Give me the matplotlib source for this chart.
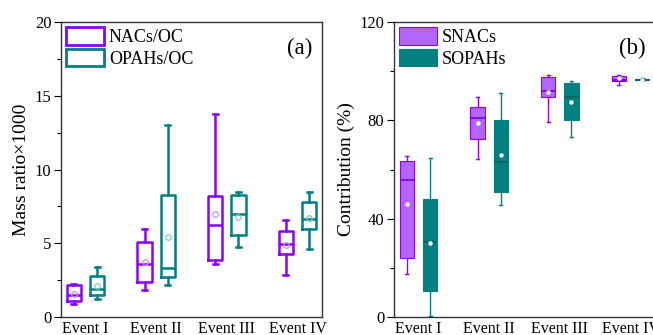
import numpy as np
import matplotlib.pyplot as plt
from matplotlib.patches import Patch
from matplotlib.ticker import MultipleLocator

plt.rcParams['font.family'] = ['Liberation Serif', 'DejaVu Serif']

events = ['Event I', 'Event II', 'Event III', 'Event IV']

# ---- panel (a): mass ratio x1000 ----
# each list: [whislo, q1, med, q3, whishi, mean]
nacs_oc = [
    [0.88, 1.06, 1.50, 2.16, 2.25, 1.58],
    [1.85, 2.36, 3.60, 5.11, 5.97, 3.76],
    [3.56, 3.87, 6.24, 8.18, 13.76, 6.96],
    [2.86, 4.28, 4.95, 5.86, 6.58, 4.91],
]
opahs_oc = [
    [1.24, 1.50, 1.91, 2.80, 3.36, 2.12],
    [2.14, 2.70, 3.31, 8.27, 13.0, 5.43],
    [4.73, 5.56, 6.96, 8.24, 8.47, 6.80],
    [4.64, 6.00, 6.67, 7.82, 8.47, 6.73],
]

# ---- panel (b): contribution (%) ----
snacs = [
    [17.3, 24.2, 55.8, 63.4, 65.6, 46.1],
    [64.4, 72.4, 81.0, 85.5, 89.4, 78.9],
    [79.3, 89.4, 92.0, 97.7, 98.5, 91.4],
    [94.2, 95.8, 96.6, 98.0, 98.5, 97.1],
]
sopahs = [
    [0.3, 10.4, 30.5, 48.0, 64.5, 30.3],
    [45.6, 50.9, 62.9, 80.3, 91.2, 65.7],
    [73.1, 80.3, 89.6, 95.3, 96.2, 87.3],
    [96.2, 96.3, 96.6, 96.9, 97.4, 96.6],
]

PURPLE = '#8B00FF'
TEAL = '#008080'
LPURPLE = '#B266FF'
DTEAL = '#006060'


def to_stats(rows):
    out = []
    for r in rows:
        out.append(dict(whislo=r[0], q1=r[1], med=r[2], q3=r[3], whishi=r[4],
                        mean=r[5], fliers=[]))
    return out


fig = plt.figure(figsize=(6.53, 3.35), dpi=100)
W, H = 653.0, 335.0
ax1 = fig.add_axes([61 / W, 1 - 317 / H, 261 / W, 295 / H])
ax2 = fig.add_axes([394 / W, 1 - 317 / H, 261 / W, 295 / H])

pos = np.arange(1, 5)
off = 0.165
bw = 0.2

# ---------- (a) ----------
for data, c, lc, d in [(nacs_oc, PURPLE, '#C58CFF', -off), (opahs_oc, TEAL, '#7CC8C8', off)]:
    ax1.bxp(to_stats(data), positions=pos + d, widths=bw, capwidths=0.07,
            showmeans=True, showfliers=False, manage_ticks=False,
            boxprops=dict(color=c, lw=1.8),
            whiskerprops=dict(color=c, lw=1.8),
            capprops=dict(color=c, lw=1.8),
            medianprops=dict(color=c, lw=1.8),
            meanprops=dict(marker='o', markersize=4, markerfacecolor='none',
                           markeredgecolor=lc, markeredgewidth=0.9))

ax1.set_xlim(0.653, 4.347)
ax1.set_ylim(0, 20)
ax1.yaxis.set_major_locator(MultipleLocator(5))
ax1.yaxis.set_minor_locator(MultipleLocator(2.5))
ax1.set_ylabel('Mass ratio×1000', fontsize=14, labelpad=3)
ax1.text(0.965, 0.945, '(a)', transform=ax1.transAxes, ha='right', va='top', fontsize=16.5)
ax1.legend(handles=[Patch(facecolor='none', edgecolor=PURPLE, lw=2, label='NACs/OC'),
                    Patch(facecolor='none', edgecolor=TEAL, lw=2, label='OPAHs/OC')],
           loc='upper left', frameon=False, fontsize=13, handlelength=2.1,
           handleheight=1.1, handletextpad=0.25, labelspacing=0.15,
           borderaxespad=0.2, borderpad=0.1)

# ---------- (b) ----------
for data, c, fc, mc, d in [(snacs, PURPLE, LPURPLE, '#7A00DD', -off), (sopahs, TEAL, TEAL, DTEAL, off)]:
    ax2.bxp(to_stats(data), positions=pos + d, widths=bw, capwidths=0.04,
            showmeans=True, showfliers=False, manage_ticks=False, patch_artist=True,
            boxprops=dict(facecolor=fc, edgecolor=c, lw=0.8),
            whiskerprops=dict(color=c, lw=1.0),
            capprops=dict(color=c, lw=1.0),
            medianprops=dict(color=mc, lw=1.2),
            meanprops=dict(marker='o', markersize=2.2, markerfacecolor='white',
                           markeredgecolor='white'))

ax2.set_xlim(0.653, 4.347)
ax2.set_ylim(0, 120)
ax2.yaxis.set_major_locator(MultipleLocator(40))
ax2.yaxis.set_minor_locator(MultipleLocator(20))
ax2.set_ylabel('Contribution (%)', fontsize=14, labelpad=3)
ax2.text(0.965, 0.945, '(b)', transform=ax2.transAxes, ha='right', va='top', fontsize=16.5)
ax2.legend(handles=[Patch(facecolor=LPURPLE, edgecolor=PURPLE, lw=0.8, label='SNACs'),
                    Patch(facecolor=TEAL, edgecolor=TEAL, lw=0.8, label='SOPAHs')],
           loc='upper left', frameon=False, fontsize=13, handlelength=2.1,
           handleheight=1.1, handletextpad=0.25, labelspacing=0.15,
           borderaxespad=0.2, borderpad=0.1)

for ax in (ax1, ax2):
    ax.set_xticks(pos)
    ax.set_xticklabels(events, fontsize=11.5)
    ax.tick_params(axis='x', length=0, pad=3)
    ax.tick_params(axis='y', which='major', direction='out', length=5, width=0.8,
                   labelsize=12, pad=2)
    ax.tick_params(axis='y', which='minor', direction='out', length=3, width=0.8)
    for s in ax.spines.values():
        s.set_linewidth(1.0)
        s.set_color('#333333')

fig.savefig('out.png', dpi=100)
